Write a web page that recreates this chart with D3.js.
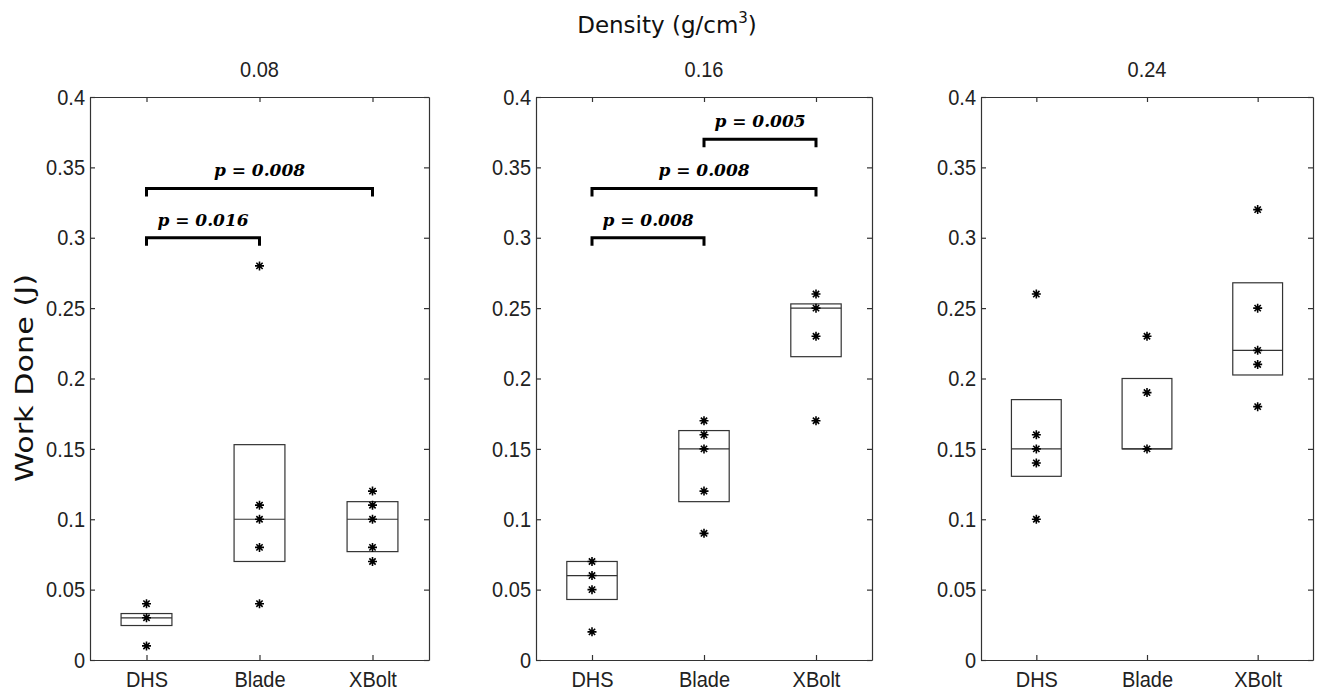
<!DOCTYPE html>
<html>
<head>
<meta charset="utf-8">
<script src="https://cdnjs.cloudflare.com/ajax/libs/d3/7.8.5/d3.min.js"></script>
<style>
	body {margin:0; background:#fff;}
	svg {display:block;}
</style>
</head>
<body>
<svg id="chart" width="1325" height="695"></svg>
<script>
//data
var densities = ["0.08", "0.16", "0.24"];
var categories = ["DHS", "Blade", "XBolt"];
var yTicks = [0, 0.05, 0.1, 0.15, 0.2, 0.25, 0.3, 0.35, 0.4];

//one entry per density
var dhsPoints   = [[0.04, 0.03, 0.01], [0.07, 0.06, 0.05, 0.02], [0.26, 0.16, 0.15, 0.14, 0.10]];
var bladePoints = [[0.28, 0.11, 0.10, 0.08, 0.04], [0.17, 0.16, 0.15, 0.12, 0.09], [0.23, 0.19, 0.15]];
var xboltPoints = [[0.12, 0.11, 0.10, 0.08, 0.07], [0.26, 0.25, 0.23, 0.17], [0.32, 0.25, 0.22, 0.21, 0.18]];

//box edges, one row per density, columns DHS / Blade / XBolt
var boxLow    = [[0.0245, 0.070, 0.077], [0.043, 0.1125, 0.2155], [0.1305, 0.15, 0.2025]];
var boxMedian = [[0.030, 0.10, 0.10], [0.060, 0.15, 0.250], [0.150, 0.15, 0.220]];
var boxHigh   = [[0.033, 0.153, 0.1125], [0.070, 0.163, 0.253], [0.185, 0.20, 0.268]];

//significance brackets
var bracketPanel = [0, 0, 1, 1, 1];
var bracketFrom  = ["DHS", "DHS", "DHS", "DHS", "Blade"];
var bracketTo    = ["Blade", "XBolt", "Blade", "XBolt", "XBolt"];
var bracketLevel = [0.30, 0.335, 0.30, 0.335, 0.37];
var bracketLabel = ["p = 0.016", "p = 0.008", "p = 0.008", "p = 0.008", "p = 0.005"];

//layout
var panelLeft = [90, 536, 981];
var panelRight = [429, 872, 1313];
var plotTop = 97, plotBottom = 660;
var axisColor = "#333";
var tickFont = "'Liberation Sans', Arial, sans-serif";
var stretch = "scale(1,1.12)"; //matlab export text is a bit tall

var svg = d3.select("#chart");

var y = d3.scaleLinear().domain([0, 0.4]).range([plotBottom, plotTop]);

function fmt(d) { return String(+d.toFixed(2)); }

//asterisk marker like matlab '*'
function star(r) {
	var a = r * 0.7;
	return "M" + (-r) + ",0L" + r + ",0M0," + (-r) + "L0," + r +
		"M" + (-a) + "," + (-a) + "L" + a + "," + a +
		"M" + (-a) + "," + a + "L" + a + "," + (-a);
}

function drawPanel(p)
{
	var g = svg.append("g").attr("class", "panel-" + p);
	var x = d3.scalePoint().domain(categories).range([panelLeft[p], panelRight[p]]).padding(0.5);
	var boxW = x.step() * 0.45;

	//axes, matlab style with inward ticks on all sides
	var left = g.append("g").attr("transform", "translate(" + panelLeft[p] + ",0)")
		.call(d3.axisLeft(y).tickValues(yTicks).tickFormat(fmt).tickSizeInner(-5).tickSizeOuter(0).tickPadding(5));
	var right = g.append("g").attr("transform", "translate(" + panelRight[p] + ",0)")
		.call(d3.axisRight(y).tickValues(yTicks).tickFormat("").tickSizeInner(-5).tickSizeOuter(0));
	var bottom = g.append("g").attr("transform", "translate(0," + plotBottom + ")")
		.call(d3.axisBottom(x).tickSizeInner(-5).tickSizeOuter(0).tickPadding(10));
	var top = g.append("g").attr("transform", "translate(0," + plotTop + ")")
		.call(d3.axisTop(x).tickFormat("").tickSizeInner(-5).tickSizeOuter(0));

	[left, right, bottom, top].forEach(function(a) {
		a.selectAll("path, line").attr("stroke", axisColor).attr("stroke-width", 1.2);
		a.selectAll("text")
			.attr("fill", "#222")
			.attr("transform", stretch)
			.style("font-family", tickFont)
			.style("font-size", "20px");
	});

	//density heading
	g.append("g")
		.attr("transform", "translate(" + (panelLeft[p] + panelRight[p]) / 2 + ",77)")
		.append("text")
		.attr("transform", stretch)
		.attr("text-anchor", "middle")
		.attr("fill", "#222")
		.style("font-family", tickFont)
		.style("font-size", "20px")
		.text(densities[p]);

	//boxes
	categories.forEach(function(c, i) {
		var cx = x(c);
		g.append("rect")
			.attr("x", cx - boxW / 2)
			.attr("y", y(boxHigh[p][i]))
			.attr("width", boxW)
			.attr("height", y(boxLow[p][i]) - y(boxHigh[p][i]))
			.attr("fill", "none")
			.attr("stroke", axisColor)
			.attr("stroke-width", 1.2);
		g.append("line")
			.attr("x1", cx - boxW / 2).attr("x2", cx + boxW / 2)
			.attr("y1", y(boxMedian[p][i])).attr("y2", y(boxMedian[p][i]))
			.attr("stroke", axisColor)
			.attr("stroke-width", 1.2);
	});

	//points
	var pts = [dhsPoints[p], bladePoints[p], xboltPoints[p]];
	categories.forEach(function(c, i) {
		g.selectAll(null).data(pts[i]).enter().append("path")
			.attr("transform", function(d) { return "translate(" + x(c) + "," + y(d) + ")"; })
			.attr("d", star(4.5))
			.attr("stroke", "#000")
			.attr("stroke-width", 1.6)
			.attr("fill", "none");
	});

	//brackets
	bracketPanel.forEach(function(bp, k) {
		if (bp != p) return;
		var x1 = x(bracketFrom[k]), x2 = x(bracketTo[k]), by = y(bracketLevel[k]);
		g.append("path")
			.attr("d", "M" + x1 + "," + (by + 8) + "L" + x1 + "," + by + "L" + x2 + "," + by + "L" + x2 + "," + (by + 8))
			.attr("fill", "none")
			.attr("stroke", "#000")
			.attr("stroke-width", 3);
		g.append("text")
			.attr("x", (x1 + x2) / 2)
			.attr("y", by - 12)
			.attr("text-anchor", "middle")
			.style("font-family", "'DejaVu Serif', serif")
			.style("font-weight", "bold")
			.style("font-style", "italic")
			.style("font-size", "17px")
			.text(bracketLabel[k]);
	});
}

for (var p = 0; p < densities.length; p++)
	drawPanel(p);

//figure title with superscript
var title = svg.append("text")
	.attr("x", 667)
	.attr("y", 33)
	.attr("text-anchor", "middle")
	.attr("fill", "#111")
	.style("font-family", "'DejaVu Sans', Verdana, sans-serif")
	.style("font-size", "23px");
title.append("tspan").text("Density (g/cm");
title.append("tspan").attr("dy", -10).style("font-size", "15px").text("3");
title.append("tspan").attr("dy", 10).text(")");

//y label, stretched along its length like the original
svg.append("text")
	.attr("transform", "translate(33,378) rotate(-90)")
	.attr("text-anchor", "middle")
	.attr("fill", "#111")
	.attr("textLength", 208)
	.attr("lengthAdjust", "spacingAndGlyphs")
	.style("font-family", "'DejaVu Sans', Verdana, sans-serif")
	.style("font-size", "24px")
	.text("Work Done (J)");
</script>
</body>
</html>
